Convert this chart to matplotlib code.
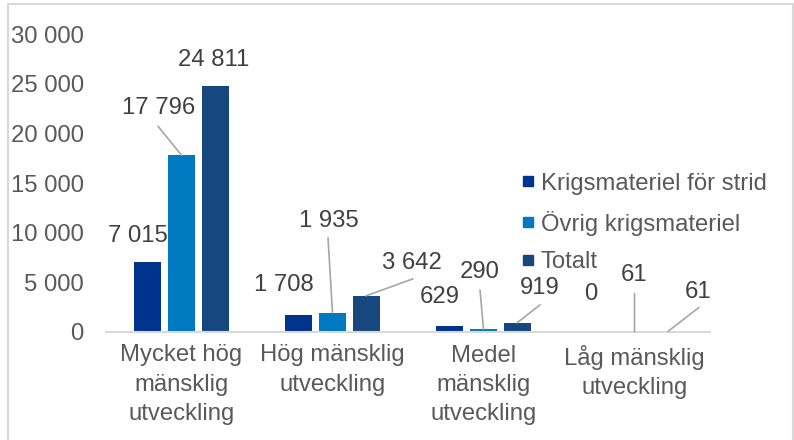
import matplotlib
matplotlib.use("Agg")
import matplotlib.pyplot as plt
from matplotlib.lines import Line2D
from matplotlib.patches import Rectangle
import numpy as np

plt.rcParams['font.family'] = ['Liberation Sans', 'DejaVu Sans']

categories = ["Mycket hög\nmänsklig\nutveckling", "Hög mänsklig\nutveckling",
              "Medel\nmänsklig\nutveckling", "Låg mänsklig\nutveckling"]
series_names = ["Krigsmateriel för strid", "Övrig krigsmateriel", "Totalt"]
strid = [7015, 1708, 629, 0]
ovrig = [17796, 1935, 290, 61]
totalt = [24811, 3642, 919, 61]
yticks = [0, 5000, 10000, 15000, 20000, 25000, 30000]

colors = ["#00338D", "#0079C1", "#17477F"]

# label placement (pixel offsets of label centre relative to bar top) and leader-line starts
label_off = [
    [(-10, 26), (-15, 30), (-10, 29), (-10, 38)],
    [(-22.5, 47), (-3.5, 92), (-3.5, 57), (0, 56)],
    [(-1, 26), (46, 33), (23, 35), (30, 39)],
]
leader = [
    [None, None, None, None],
    [(-23.5, 29), (-4.5, 75), (-3.5, 39), (0, 38)],
    [None, (47, 17), (23, 18), (31, 24)],
]

FS = 17.2
W, H = 794, 440
fig = plt.figure(figsize=(W / 100, H / 100), dpi=100)
ax = fig.add_axes([106 / W, 1 - 332 / H, (710 - 106) / W, (332 - 34) / H])

x = np.arange(len(categories))
bw = 0.179
step = 0.222
data = [strid, ovrig, totalt]
text_col = "#404040"
for i, (vals, c) in enumerate(zip(data, colors)):
    xs = x + (i - 1) * step
    ax.bar(xs, vals, width=bw, color=c, label=series_names[i], zorder=2)
    for j, v in enumerate(vals):
        dx, dy = label_off[i][j]
        ax.annotate(f"{v:,}".replace(",", " "), xy=(xs[j], v), xytext=(dx, dy),
                    textcoords="offset pixels", ha="center", va="center",
                    fontsize=FS, color=text_col)
        if leader[i][j] is not None:
            ax.annotate("", xy=(xs[j], v), xytext=leader[i][j], textcoords="offset pixels",
                        arrowprops=dict(arrowstyle="-", color="#A6A6A6", lw=1.2,
                                        shrinkA=0, shrinkB=0))

ax.set_xlim(-0.5, len(categories) - 0.5)
ax.set_ylim(0, 30000)
ax.set_yticks(yticks)
ax.set_yticklabels([f"{t:,}".replace(",", " ") for t in yticks])
ax.set_xticks(x)
ax.set_xticklabels(categories, linespacing=1.43)
ax.tick_params(axis="y", length=0, pad=16, labelsize=FS, labelcolor="#595959")
ax.tick_params(axis="x", length=0, pad=9, labelsize=FS, labelcolor="#595959")
for s in ["top", "right", "left"]:
    ax.spines[s].set_visible(False)
ax.spines["bottom"].set_color("#D9D9D9")
ax.spines["bottom"].set_linewidth(1.5)

handles = [Line2D([], [], marker="s", linestyle="", color=c, markersize=6.5) for c in colors]
fig.legend(handles, series_names, loc="center left", bbox_to_anchor=(521 / W, 1 - 223 / H),
           frameon=False, fontsize=FS, handlelength=0.6, handletextpad=0.22,
           labelspacing=0.66, borderpad=0, borderaxespad=0, labelcolor="#595959")

fig.patches.append(Rectangle((8 / W, -0.05), (793 - 8) / W, 1.05 - 4.5 / H,
                             transform=fig.transFigure, fill=False,
                             edgecolor="#D9D9D9", lw=1.5))

fig.savefig("out.png", dpi=100)
